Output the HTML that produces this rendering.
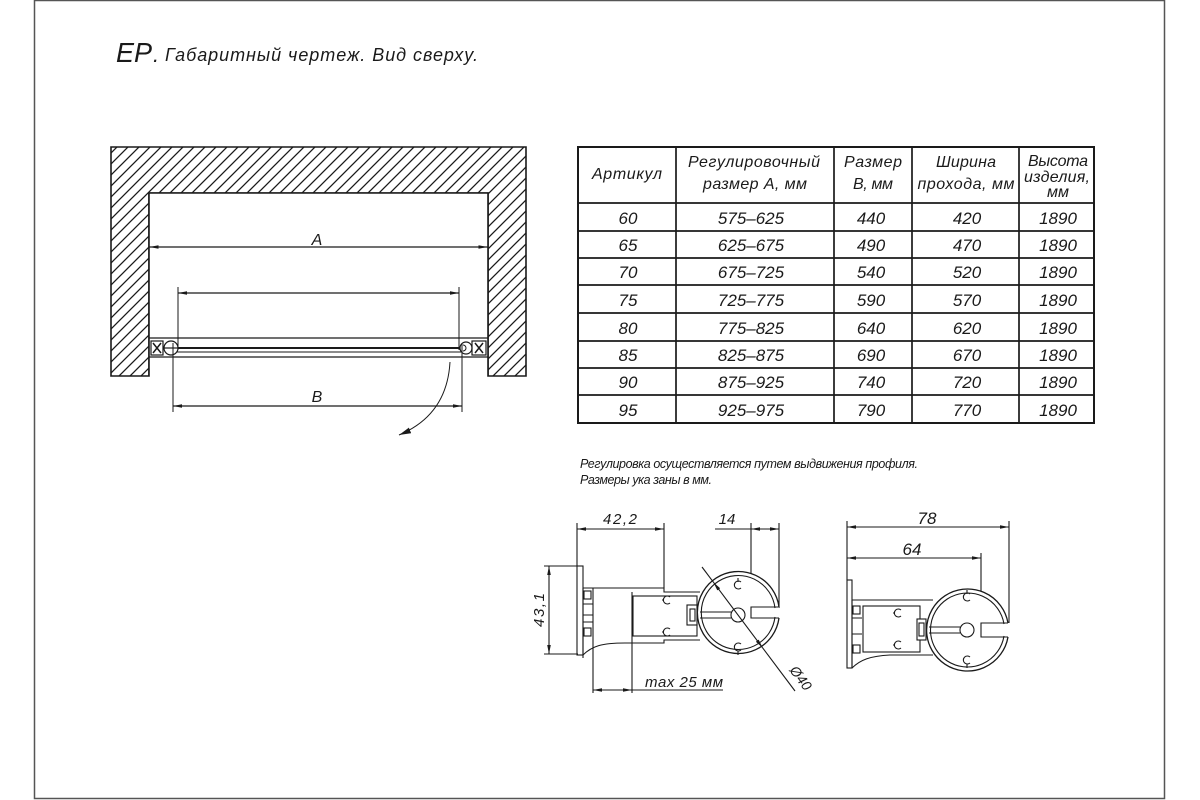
<!DOCTYPE html>
<html><head><meta charset="utf-8"><title>EP</title>
<style>
html,body{margin:0;padding:0;background:#fff;}
svg{display:block;}
text{font-family:"Liberation Sans","DejaVu Sans",sans-serif;font-style:italic;fill:#1a1a1a;}
</style></head>
<body>
<svg width="1200" height="800" viewBox="0 0 1200 800" xmlns="http://www.w3.org/2000/svg">
<defs>
  <pattern id="hatch" patternUnits="userSpaceOnUse" width="11" height="11">
    <path d="M0,11 L11,0 M-2,2 L2,-2 M9,13 L13,9" stroke="#1a1a1a" stroke-width="1.3"/>
  </pattern>
  <marker id="ar" viewBox="0 0 10 4" refX="10" refY="2" markerWidth="9" markerHeight="3.6" markerUnits="userSpaceOnUse" orient="auto-start-reverse">
    <path d="M0,0 L10,2 L0,4 Z" fill="#1a1a1a"/>
  </marker>
  <marker id="arb" viewBox="0 0 10 5" refX="10" refY="2.5" markerWidth="12" markerHeight="6" markerUnits="userSpaceOnUse" orient="auto">
    <path d="M0,0 L10,2.5 L0,5 Z" fill="#1a1a1a"/>
  </marker>
</defs>

<!-- page frame -->
<rect x="34.5" y="0.5" width="1130" height="798" fill="none" stroke="#555" stroke-width="1.5"/>

<!-- title -->
<text x="116" y="62" font-size="28" textLength="36" lengthAdjust="spacingAndGlyphs">EP</text>
<text x="153" y="62" font-size="22">.</text>
<text x="165" y="61" font-size="18" textLength="313" lengthAdjust="spacing">Габаритный чертеж. Вид сверху.</text>

<!-- ========== LEFT PLAN VIEW ========== -->
<path d="M111,147 H526 V376 H488 V193 H149 V376 H111 Z" fill="url(#hatch)" stroke="#1a1a1a" stroke-width="1.6"/>
<rect x="149" y="193" width="339" height="183" fill="#fff"/>
<path d="M149,376 V193 H488 V376" fill="none" stroke="#1a1a1a" stroke-width="1.6"/>

<g stroke="#1a1a1a" fill="none">
  <line x1="149.5" y1="247" x2="487.5" y2="247" stroke-width="1.2" marker-start="url(#ar)" marker-end="url(#ar)"/>
  <line x1="178" y1="287" x2="178" y2="350" stroke-width="1"/>
  <line x1="459" y1="287" x2="459" y2="350" stroke-width="1"/>
  <line x1="178" y1="293" x2="459" y2="293" stroke-width="1.2" marker-start="url(#ar)" marker-end="url(#ar)"/>
  <line x1="149" y1="338" x2="488" y2="338" stroke-width="1.2"/>
  <line x1="149" y1="357" x2="488" y2="357" stroke-width="1.2"/>
  <line x1="165" y1="348" x2="470" y2="348" stroke-width="2"/>
  <line x1="170" y1="352" x2="466" y2="352" stroke-width="1"/>
  <rect x="151" y="341" width="12" height="14" stroke-width="1.2"/>
  <path d="M153,343 L161,353 M161,343 L153,353" stroke-width="1.5"/>
  <circle cx="171" cy="348" r="7" stroke-width="1.2" fill="#fff"/>
  <line x1="164" y1="348" x2="178" y2="348" stroke-width="1.2"/>
  <circle cx="466" cy="348" r="6" stroke-width="1.2" fill="#fff"/>
  <path d="M463,345 a3,3 0 1 1 0,6" stroke-width="1"/>
  <rect x="472" y="341" width="14" height="14" stroke-width="1.2"/>
  <path d="M475,343 L483,353 M483,343 L475,353" stroke-width="1.5"/>
  <line x1="173" y1="343" x2="173" y2="412" stroke-width="1"/>
  <line x1="462" y1="343" x2="462" y2="412" stroke-width="1"/>
  <line x1="173" y1="406" x2="462" y2="406" stroke-width="1.2" marker-start="url(#ar)" marker-end="url(#ar)"/>
  <path d="M450,362 Q447,415 399,435" stroke-width="1" marker-end="url(#arb)"/>
</g>
<text x="317" y="245" font-size="16" text-anchor="middle">A</text>
<text x="317" y="402" font-size="16" text-anchor="middle">B</text>

<!-- ========== TABLE ========== -->
<g stroke="#1a1a1a" fill="none" stroke-width="1.7">
  <rect x="578" y="147" width="516" height="276" stroke-width="2"/>
  <line x1="676" y1="147" x2="676" y2="423"/>
  <line x1="834" y1="147" x2="834" y2="423"/>
  <line x1="912" y1="147" x2="912" y2="423"/>
  <line x1="1019" y1="147" x2="1019" y2="423"/>
  <line x1="578" y1="203" x2="1094" y2="203"/>
  <line x1="578" y1="231" x2="1094" y2="231"/>
  <line x1="578" y1="258" x2="1094" y2="258"/>
  <line x1="578" y1="285" x2="1094" y2="285"/>
  <line x1="578" y1="313" x2="1094" y2="313"/>
  <line x1="578" y1="341" x2="1094" y2="341"/>
  <line x1="578" y1="368" x2="1094" y2="368"/>
  <line x1="578" y1="395" x2="1094" y2="395"/>
</g>
<g font-size="16" text-anchor="middle">
  <text x="627" y="179" textLength="70" lengthAdjust="spacing">Артикул</text>
  <text x="754" y="167" textLength="132" lengthAdjust="spacing">Регулировочный</text>
  <text x="755" y="189" textLength="104" lengthAdjust="spacing">размер А, мм</text>
  <text x="873" y="167" textLength="58" lengthAdjust="spacing">Размер</text>
  <text x="873" y="189" textLength="40" lengthAdjust="spacing">В, мм</text>
  <text x="966" y="167" textLength="60" lengthAdjust="spacing">Ширина</text>
  <text x="966" y="189" textLength="97" lengthAdjust="spacing">прохода, мм</text>
  <text x="1058" y="166" textLength="60" lengthAdjust="spacing">Высота</text>
  <text x="1057" y="182" textLength="66" lengthAdjust="spacing">изделия,</text>
  <text x="1058" y="197">мм</text>
</g>
<g font-size="17" text-anchor="middle">
  <text x="628" y="224">60</text><text x="751" y="224">575–625</text><text x="871" y="224">440</text><text x="967" y="224">420</text><text x="1058" y="224">1890</text>
  <text x="628" y="251">65</text><text x="751" y="251">625–675</text><text x="871" y="251">490</text><text x="967" y="251">470</text><text x="1058" y="251">1890</text>
  <text x="628" y="278">70</text><text x="751" y="278">675–725</text><text x="871" y="278">540</text><text x="967" y="278">520</text><text x="1058" y="278">1890</text>
  <text x="628" y="306">75</text><text x="751" y="306">725–775</text><text x="871" y="306">590</text><text x="967" y="306">570</text><text x="1058" y="306">1890</text>
  <text x="628" y="334">80</text><text x="751" y="334">775–825</text><text x="871" y="334">640</text><text x="967" y="334">620</text><text x="1058" y="334">1890</text>
  <text x="628" y="361">85</text><text x="751" y="361">825–875</text><text x="871" y="361">690</text><text x="967" y="361">670</text><text x="1058" y="361">1890</text>
  <text x="628" y="388">90</text><text x="751" y="388">875–925</text><text x="871" y="388">740</text><text x="967" y="388">720</text><text x="1058" y="388">1890</text>
  <text x="628" y="416">95</text><text x="751" y="416">925–975</text><text x="871" y="416">790</text><text x="967" y="416">770</text><text x="1058" y="416">1890</text>
</g>

<!-- notes -->
<text x="580" y="468" font-size="12.5" textLength="338" lengthAdjust="spacing">Регулировка осуществляется путем выдвижения профиля.</text>
<text x="580" y="484" font-size="12.5" textLength="132" lengthAdjust="spacing">Размеры ука заны в мм.</text>

<!-- ========== PROFILE LEFT ========== -->
<g stroke="#1a1a1a" fill="none" stroke-width="1.1">
  <line x1="577" y1="523" x2="577" y2="566"/>
  <line x1="664" y1="523" x2="664" y2="588"/>
  <line x1="577" y1="529" x2="664" y2="529" marker-start="url(#ar)" marker-end="url(#ar)"/>
  <line x1="751" y1="523" x2="751" y2="618"/>
  <line x1="779" y1="523" x2="779" y2="608"/>
  <line x1="715" y1="529" x2="751" y2="529"/>
  <line x1="751" y1="529" x2="779" y2="529" marker-start="url(#ar)" marker-end="url(#ar)"/>
  <line x1="544" y1="566" x2="577" y2="566"/>
  <line x1="544" y1="654" x2="578" y2="654"/>
  <line x1="549" y1="566" x2="549" y2="654" marker-start="url(#ar)" marker-end="url(#ar)"/>
  <rect x="577" y="566" width="6" height="89"/>
  <rect x="584" y="591" width="7" height="8"/>
  <rect x="584" y="628" width="7" height="8"/>
  <path d="M583,588 V658 M583,604 H593 M583,615 H593 M583,622 H593"/>
  <path d="M583,588 H664 V592 H700"/>
  <path d="M583,655 C592,646 602,643 625,643 H664 V640 H700"/>
  <rect x="633" y="596" width="64" height="40"/>
  <line x1="593" y1="588" x2="593" y2="693"/>
  <line x1="632" y1="592" x2="632" y2="693"/>
  <line x1="593" y1="690" x2="632" y2="690" marker-start="url(#ar)" marker-end="url(#ar)"/>
  <line x1="632" y1="690" x2="723" y2="690"/>
  <rect x="687" y="605" width="10" height="20" fill="#fff"/>
  <rect x="690" y="609" width="5" height="12"/>
  <path d="M779,607 A41,41 0 1 0 779,618" stroke-width="1.3" fill="#fff"/>
  <path d="M775,608 A37,37 0 1 0 775,617" />
  <path d="M779,607 H751 V618 H779"/>
  <line x1="700" y1="612" x2="731" y2="612"/>
  <line x1="700" y1="618" x2="731" y2="618"/>
  <circle cx="738" cy="615" r="7"/>
  <path d="M670,597 a4,4 0 1 0 0,6 M664,600 h-2"/>
  <path d="M670,629 a4,4 0 1 0 0,6 M664,632 h-2"/>
  <path d="M741,582 a4,4 0 1 0 0,6 M738,578 v4"/>
  <path d="M741,644 a4,4 0 1 0 0,6 M738,651 v4"/>
  <line x1="702" y1="567" x2="713.4" y2="582.2"/>
  <line x1="795" y1="691" x2="762.6" y2="647.8"/>
  <line x1="713.4" y1="582.2" x2="762.6" y2="647.8" marker-start="url(#ar)" marker-end="url(#ar)"/>
</g>
<text x="620" y="524" font-size="15" text-anchor="middle" textLength="34" lengthAdjust="spacing">42,2</text>
<text x="727" y="524" font-size="15" text-anchor="middle">14</text>
<text x="0" y="0" font-size="15" text-anchor="middle" transform="translate(544,610) rotate(-90)" textLength="34" lengthAdjust="spacing">43,1</text>
<text x="684" y="687" font-size="15" text-anchor="middle" textLength="78" lengthAdjust="spacing">max 25 мм</text>
<text x="0" y="0" font-size="14" text-anchor="middle" transform="translate(797,681) rotate(53)">Ø40</text>

<!-- ========== PROFILE RIGHT ========== -->
<g stroke="#1a1a1a" fill="none" stroke-width="1.1">
  <line x1="847" y1="521" x2="847" y2="580"/>
  <line x1="1009" y1="521" x2="1009" y2="623"/>
  <line x1="847" y1="527" x2="1009" y2="527" marker-start="url(#ar)" marker-end="url(#ar)"/>
  <line x1="981" y1="553" x2="981" y2="637"/>
  <line x1="847" y1="558" x2="981" y2="558" marker-start="url(#ar)" marker-end="url(#ar)"/>
  <rect x="847" y="580" width="5" height="88"/>
  <rect x="853" y="606" width="7" height="8"/>
  <rect x="853" y="645" width="7" height="8"/>
  <path d="M852,600 V668 M852,618 H862 M852,634 H862"/>
  <path d="M852,600 H933"/>
  <path d="M852,668 C860,660 870,656 890,655 H933"/>
  <rect x="863" y="606" width="57" height="46"/>
  <rect x="917" y="619" width="9" height="21" fill="#fff"/>
  <rect x="919" y="623" width="5" height="13"/>
  <path d="M1008,623 A41,41 0 1 0 1008,637" stroke-width="1.3" fill="#fff"/>
  <path d="M1004,624 A37,37 0 1 0 1004,636"/>
  <path d="M1008,623 H981 V637 H1008"/>
  <line x1="929" y1="627" x2="960" y2="627"/>
  <line x1="929" y1="633" x2="960" y2="633"/>
  <circle cx="967" cy="630" r="7"/>
  <path d="M901,610 a4,4 0 1 0 0,6 M895,613 h-2"/>
  <path d="M901,642 a4,4 0 1 0 0,6 M895,645 h-2"/>
  <path d="M970,594 a4,4 0 1 0 0,6 M967,590 v4"/>
  <path d="M970,657 a4,4 0 1 0 0,6 M967,664 v4"/>
</g>
<text x="927" y="524" font-size="17" text-anchor="middle">78</text>
<text x="912" y="555" font-size="17" text-anchor="middle">64</text>
</svg>
</body></html>
